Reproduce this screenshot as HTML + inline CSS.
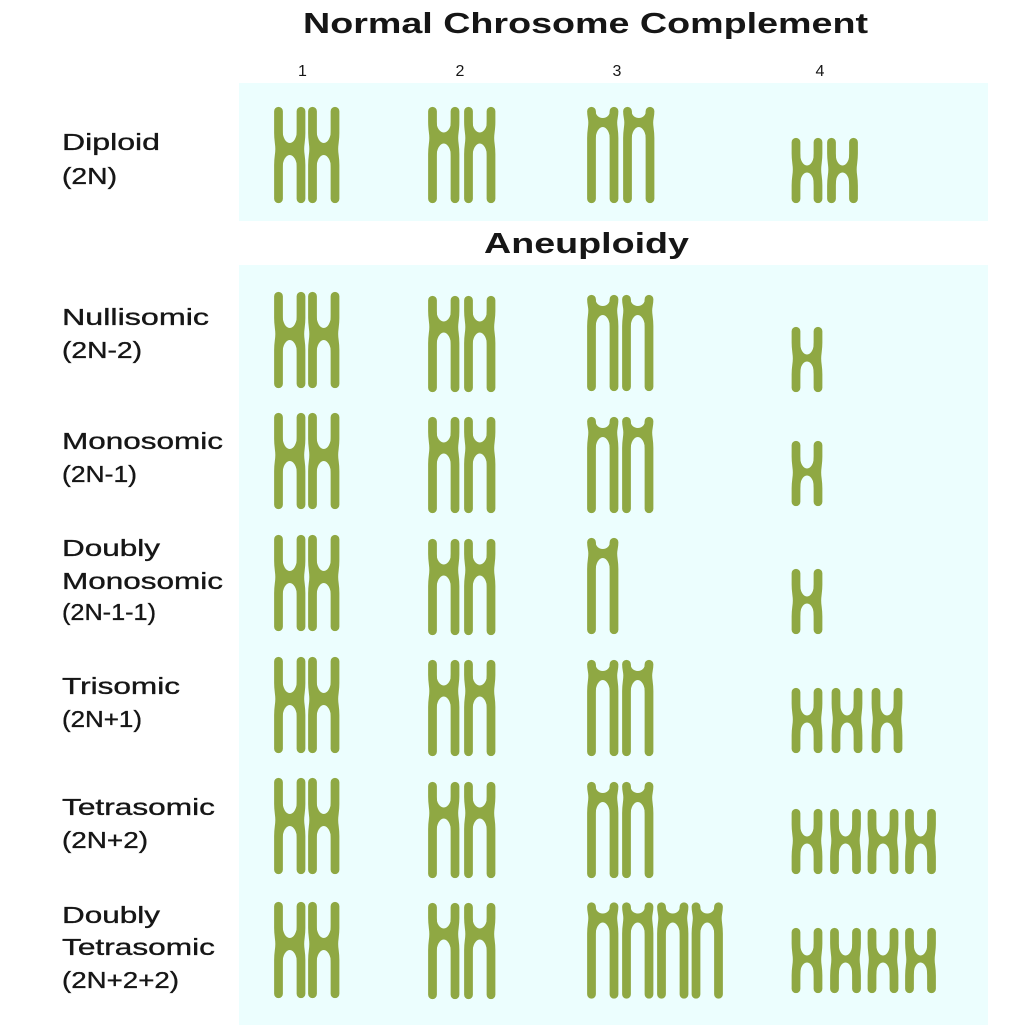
<!DOCTYPE html>
<html><head><meta charset="utf-8"><style>
html,body{margin:0;padding:0;background:#fff;}
svg{display:block;}
text{font-family:"Liberation Sans",sans-serif;fill:#161616;}
.lab{font-size:23px;stroke:#161616;stroke-width:0.35px;}
.hd{font-size:29px;font-weight:bold;}
.num{font-size:16px;}
.ch path.b{fill:none;stroke:#8fa843;stroke-width:8.75;stroke-linecap:round;stroke-linejoin:round;}
.ch path.f{fill:#8fa843;stroke:none;}
</style></head><body>
<svg width="1012" height="1026" viewBox="0 0 1012 1026" xmlns="http://www.w3.org/2000/svg">
<defs>
<g id="A" class="ch">
<path class="b" d="M4.5,4.25V26C4.5,34 5.7,36 5.7,42C5.7,48 4.5,50 4.5,58V91.75"/>
<path class="b" d="M27,4.25V26C27,34 25.8,36 25.8,42C25.8,48 27,50 27,58V91.75"/>
<path class="f" d="M8.5,23A7.25,13 0 0,0 23,23L23,61A7.25,13 0 0,0 8.5,61Z"/>
</g>
<g id="B" class="ch">
<path class="b" d="M4.5,4.25V15C4.5,23 5.7,25 5.7,31C5.7,37 4.5,39 4.5,47V91.75"/>
<path class="b" d="M27,4.25V15C27,23 25.8,25 25.8,31C25.8,37 27,39 27,47V91.75"/>
<path class="f" d="M8.5,14.5A7.25,11 0 0,0 23,14.5L23,49.5A7.25,13 0 0,0 8.5,49.5Z"/>
</g>
<g id="C" class="ch">
<path class="b" d="M4.5,4.25C4.5,9 5.7,11 5.7,15.5C5.7,21 4.5,23 4.5,31V91.75"/>
<path class="b" d="M27,4.25C27,9 25.8,11 25.8,15.5C25.8,21 27,23 27,31V91.75"/>
<path class="f" d="M8.5,4A7.25,7 0 0,0 23,4L23,33A7.25,13 0 0,0 8.5,33Z"/>
</g>
<g id="D" class="ch">
<path class="b" d="M4.5,4.25V15.5C4.5,23.5 5.7,25.5 5.7,31.5C5.7,37.5 4.5,39.5 4.5,47.5V60.75"/>
<path class="b" d="M26.5,4.25V15.5C26.5,23.5 25.3,25.5 25.3,31.5C25.3,37.5 26.5,39.5 26.5,47.5V60.75"/>
<path class="f" d="M8.5,15.5A7,12 0 0,0 22.5,15.5L22.5,46.5A7,12 0 0,0 8.5,46.5Z"/>
</g>
</defs>

<rect x="239" y="83" width="749" height="138" fill="#ecfefe"/>
<rect x="239" y="265" width="749" height="760" fill="#ecfefe"/>

<text class="hd" x="303" y="33" textLength="565" lengthAdjust="spacingAndGlyphs">Normal Chrosome Complement</text>
<text class="hd" x="484" y="253" textLength="205" lengthAdjust="spacingAndGlyphs">Aneuploidy</text>

<text class="num" x="302.5" y="76" text-anchor="middle">1</text>
<text class="num" x="460" y="76" text-anchor="middle">2</text>
<text class="num" x="617" y="76" text-anchor="middle">3</text>
<text class="num" x="820" y="76" text-anchor="middle">4</text>

<text class="lab" x="62" y="150" textLength="98" lengthAdjust="spacingAndGlyphs">Diploid</text>
<text class="lab" x="62" y="184" textLength="55" lengthAdjust="spacingAndGlyphs">(2N)</text>

<text class="lab" x="62" y="325" textLength="147" lengthAdjust="spacingAndGlyphs">Nullisomic</text>
<text class="lab" x="62" y="358" textLength="80" lengthAdjust="spacingAndGlyphs">(2N-2)</text>

<text class="lab" x="62" y="449" textLength="161" lengthAdjust="spacingAndGlyphs">Monosomic</text>
<text class="lab" x="62" y="482" textLength="75" lengthAdjust="spacingAndGlyphs">(2N-1)</text>

<text class="lab" x="62" y="556" textLength="98" lengthAdjust="spacingAndGlyphs">Doubly</text>
<text class="lab" x="62" y="589" textLength="161" lengthAdjust="spacingAndGlyphs">Monosomic</text>
<text class="lab" x="62" y="620" textLength="94" lengthAdjust="spacingAndGlyphs">(2N-1-1)</text>

<text class="lab" x="62" y="694" textLength="118" lengthAdjust="spacingAndGlyphs">Trisomic</text>
<text class="lab" x="62" y="727" textLength="80" lengthAdjust="spacingAndGlyphs">(2N+1)</text>

<text class="lab" x="62" y="815" textLength="153" lengthAdjust="spacingAndGlyphs">Tetrasomic</text>
<text class="lab" x="62" y="848" textLength="86" lengthAdjust="spacingAndGlyphs">(2N+2)</text>

<text class="lab" x="62" y="923" textLength="98" lengthAdjust="spacingAndGlyphs">Doubly</text>
<text class="lab" x="62" y="955" textLength="153" lengthAdjust="spacingAndGlyphs">Tetrasomic</text>
<text class="lab" x="62" y="988" textLength="117" lengthAdjust="spacingAndGlyphs">(2N+2+2)</text>

<!-- Diploid -->
<use href="#A" x="274" y="107"/><use href="#A" x="308" y="107"/>
<use href="#B" x="428" y="107"/><use href="#B" x="464" y="107"/>
<use href="#C" x="587" y="107"/><use href="#C" x="623" y="107"/>
<use href="#D" x="791.5" y="138"/><use href="#D" x="827" y="138"/>

<!-- Nullisomic -->
<use href="#A" x="274" y="292"/><use href="#A" x="308" y="292"/>
<use href="#B" x="428" y="296"/><use href="#B" x="464" y="296"/>
<use href="#C" x="587" y="295"/><use href="#C" x="622" y="295"/>
<use href="#D" x="791.5" y="327"/>

<!-- Monosomic -->
<use href="#A" x="274" y="413"/><use href="#A" x="308" y="413"/>
<use href="#B" x="428" y="417"/><use href="#B" x="464" y="417"/>
<use href="#C" x="587" y="417"/><use href="#C" x="622" y="417"/>
<use href="#D" x="791.5" y="441"/>

<!-- Doubly Monosomic -->
<use href="#A" x="274" y="535"/><use href="#A" x="308" y="535"/>
<use href="#B" x="428" y="539"/><use href="#B" x="464" y="539"/>
<use href="#C" x="587" y="538"/>
<use href="#D" x="791.5" y="569"/>

<!-- Trisomic -->
<use href="#A" x="274" y="657"/><use href="#A" x="308" y="657"/>
<use href="#B" x="428" y="660"/><use href="#B" x="464" y="660"/>
<use href="#C" x="587" y="660"/><use href="#C" x="622" y="660"/>
<use href="#D" x="791.5" y="688"/><use href="#D" x="831.5" y="688"/><use href="#D" x="871.5" y="688"/>

<!-- Tetrasomic -->
<use href="#A" x="274" y="778"/><use href="#A" x="308" y="778"/>
<use href="#B" x="428" y="782"/><use href="#B" x="464" y="782"/>
<use href="#C" x="587" y="782"/><use href="#C" x="622" y="782"/>
<use href="#D" x="791.5" y="809"/><use href="#D" x="830" y="809"/><use href="#D" x="867.5" y="809"/><use href="#D" x="905" y="809"/>

<!-- Doubly Tetrasomic -->
<use href="#A" x="274" y="902"/><use href="#A" x="308" y="902"/>
<use href="#B" x="428" y="903"/><use href="#B" x="464" y="903"/>
<use href="#C" x="587" y="902.5"/><use href="#C" x="622" y="902.5"/><use href="#C" x="657" y="902.5"/><use href="#C" x="691.5" y="902.5"/>
<use href="#D" x="791.5" y="928"/><use href="#D" x="830" y="928"/><use href="#D" x="867.5" y="928"/><use href="#D" x="905" y="928"/>
</svg>
</body></html>
